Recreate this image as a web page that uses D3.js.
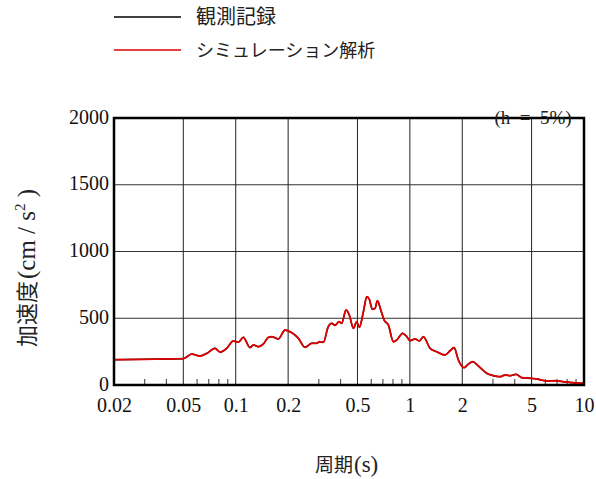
<!DOCTYPE html>
<html><head><meta charset="utf-8">
<script src="https://cdn.jsdelivr.net/npm/d3@7"></script>
<style>body{margin:0;background:#fff}svg{display:block}</style>
</head><body><div id="c"></div>
<script>
const periods = [0.02,0.03,0.04,0.05,0.0559,0.0624,0.0682,0.076,0.0813,0.0888,0.0969,0.1035,0.1106,0.1208,0.1262,0.1349,0.1441,0.1539,0.161,0.1757,0.192,0.2098,0.229,0.25,0.273,0.292,0.302,0.3186,0.34,0.356,0.372,0.392,0.406,0.43,0.449,0.474,0.495,0.513,0.541,0.566,0.585,0.609,0.631,0.651,0.681,0.711,0.753,0.804,0.841,0.91,0.96,1.003,1.071,1.134,1.196,1.306,1.428,1.592,1.702,1.794,1.9,2.048,2.168,2.298,2.475,2.764,3.018,3.298,3.522,3.764,4.074,4.394,4.904,5.358,6.11,6.82,7.62,8.69,10];
const observed = [190,192,195,197,232,217,237,275,247,275,330,320,357,280,300,287,307,357,362,345,412,392,350,282,312,312,324,320,437,462,447,474,462,562,524,425,474,432,549,661,642,567,574,631,562,487,449,324,337,387,362,332,345,330,362,275,249,225,257,280,187,130,157,175,142,88,70,62,75,70,80,55,50,45,30,32,25,17,12];
const simulation = [190,192,195,197,232,217,237,275,247,275,330,320,357,280,300,287,307,357,362,345,412,392,350,282,312,312,324,320,437,462,447,474,462,562,524,425,474,432,549,661,642,567,574,631,562,487,449,324,337,387,362,332,345,330,362,275,249,225,257,280,187,130,157,175,142,88,70,62,75,70,80,55,50,45,30,32,25,17,12];
const xTicks = [0.02,0.05,0.1,0.2,0.5,1,2,5,10];
const xTickLabels = ["0.02","0.05","0.1","0.2","0.5","1","2","5","10"];
const xGrid = [0.05,0.1,0.2,0.5,1,2,5];
const xMinor = [0.03,0.04,0.06,0.07,0.08,0.09,0.3,0.4,0.6,0.7,0.8,0.9,3,4,6,7,8,9];
const yTicks = [0,500,1000,1500,2000];
const yGrid = [500,1000,1500];
const legendLabels = ["観測記録","シミュレーション解析"];
const colors = ["#000000","#e00000"];

const W=596,H=479, L=114,R=584,T=118,B=385;
const svg=d3.select("#c").append("svg").attr("width",W).attr("height",H);
const x=d3.scaleLog().domain([0.02,10]).range([L,R]);
const y=d3.scaleLinear().domain([0,2000]).range([B,T]);
const serif="Liberation Serif";
const jp="Noto Sans CJK JP";

// grid
svg.append("g").selectAll("line").data(yGrid).join("line")
 .attr("x1",L).attr("x2",R).attr("y1",d=>y(d)).attr("y2",d=>y(d))
 .attr("stroke","#333").attr("stroke-width",1);
svg.append("g").selectAll("line").data(xGrid).join("line")
 .attr("x1",d=>x(d)).attr("x2",d=>x(d)).attr("y1",T).attr("y2",B)
 .attr("stroke","#222").attr("stroke-width",1);
svg.append("g").selectAll("line").data(xMinor).join("line")
 .attr("x1",d=>x(d)).attr("x2",d=>x(d)).attr("y1",B-6).attr("y2",B)
 .attr("stroke","#555").attr("stroke-width",1.2);

// curves
const line=d3.line().x((d,i)=>x(periods[i])).y(d=>y(d)).curve(d3.curveMonotoneX);
svg.append("path").datum(observed).attr("d",line).attr("fill","none").attr("stroke",colors[0]).attr("stroke-width",1.5);
svg.append("path").datum(simulation).attr("d",line).attr("fill","none").attr("stroke",colors[1]).attr("stroke-width",1.8);

// frame
svg.append("rect").attr("x",L).attr("y",T).attr("width",R-L).attr("height",B-T)
 .attr("fill","none").attr("stroke","#000").attr("stroke-width",2.5);

// axes labels
const xa=d3.axisBottom(x).tickValues(xTicks).tickFormat((d,i)=>xTickLabels[i]).tickSize(0).tickPadding(13);
const gx=svg.append("g").attr("transform",`translate(0,${B})`).call(xa);
gx.select(".domain").remove();
gx.selectAll("text").style("font-family",serif).style("font-size","20px").attr("fill","#111");
const ya=d3.axisLeft(y).tickValues(yTicks).tickFormat(d3.format("d")).tickSize(0).tickPadding(5);
const gy=svg.append("g").attr("transform",`translate(${L},0)`).call(ya);
gy.select(".domain").remove();
gy.selectAll("text").style("font-family",serif).style("font-size","20px").attr("fill","#111").attr("dy","0.25em");

// (h = 5%)
svg.append("text").attr("x",533).attr("y",124).attr("text-anchor","middle")
 .style("font-family",serif).style("font-size","19px").attr("fill","#222").attr("xml:space","preserve").text("(h  =  5%)");

// x title
svg.append("text").attr("x",353).attr("y",472).attr("text-anchor","end")
 .style("font-family",jp).style("font-size","19px").attr("fill","#222").text("周期");
svg.append("text").attr("x",354).attr("y",472).attr("text-anchor","start")
 .style("font-family",serif).style("font-size","23px").attr("fill","#222").text("(s)");

// y title
const yg=svg.append("g").attr("transform","translate(35,0) rotate(-90)");
yg.append("text").attr("x",-347).attr("y",0).attr("text-anchor","start")
 .style("font-family",jp).style("font-size","22px").attr("fill","#222").text("加速度");
const ys=yg.append("text").attr("x",-279).attr("y",0).attr("text-anchor","start")
 .style("font-family",serif).style("font-size","25px").attr("fill","#222");
ys.append("tspan").text("(cm / s");
ys.append("tspan").style("font-size","15px").attr("dy",-10).text("2");
ys.append("tspan").attr("dy",10).text(" )");

// legend
const lg=svg.append("g");
legendLabels.forEach((t,i)=>{
  const yy=17+i*33;
  lg.append("line").attr("x1",114).attr("x2",181).attr("y1",yy).attr("y2",yy).attr("stroke",colors[i]).attr("stroke-width",1.3);
  lg.append("text").attr("x",196).attr("y",yy+7).style("font-family",jp).style("font-size",(i===0?20:18)+"px").attr("fill","#222").text(t);
});
</script></body></html>
